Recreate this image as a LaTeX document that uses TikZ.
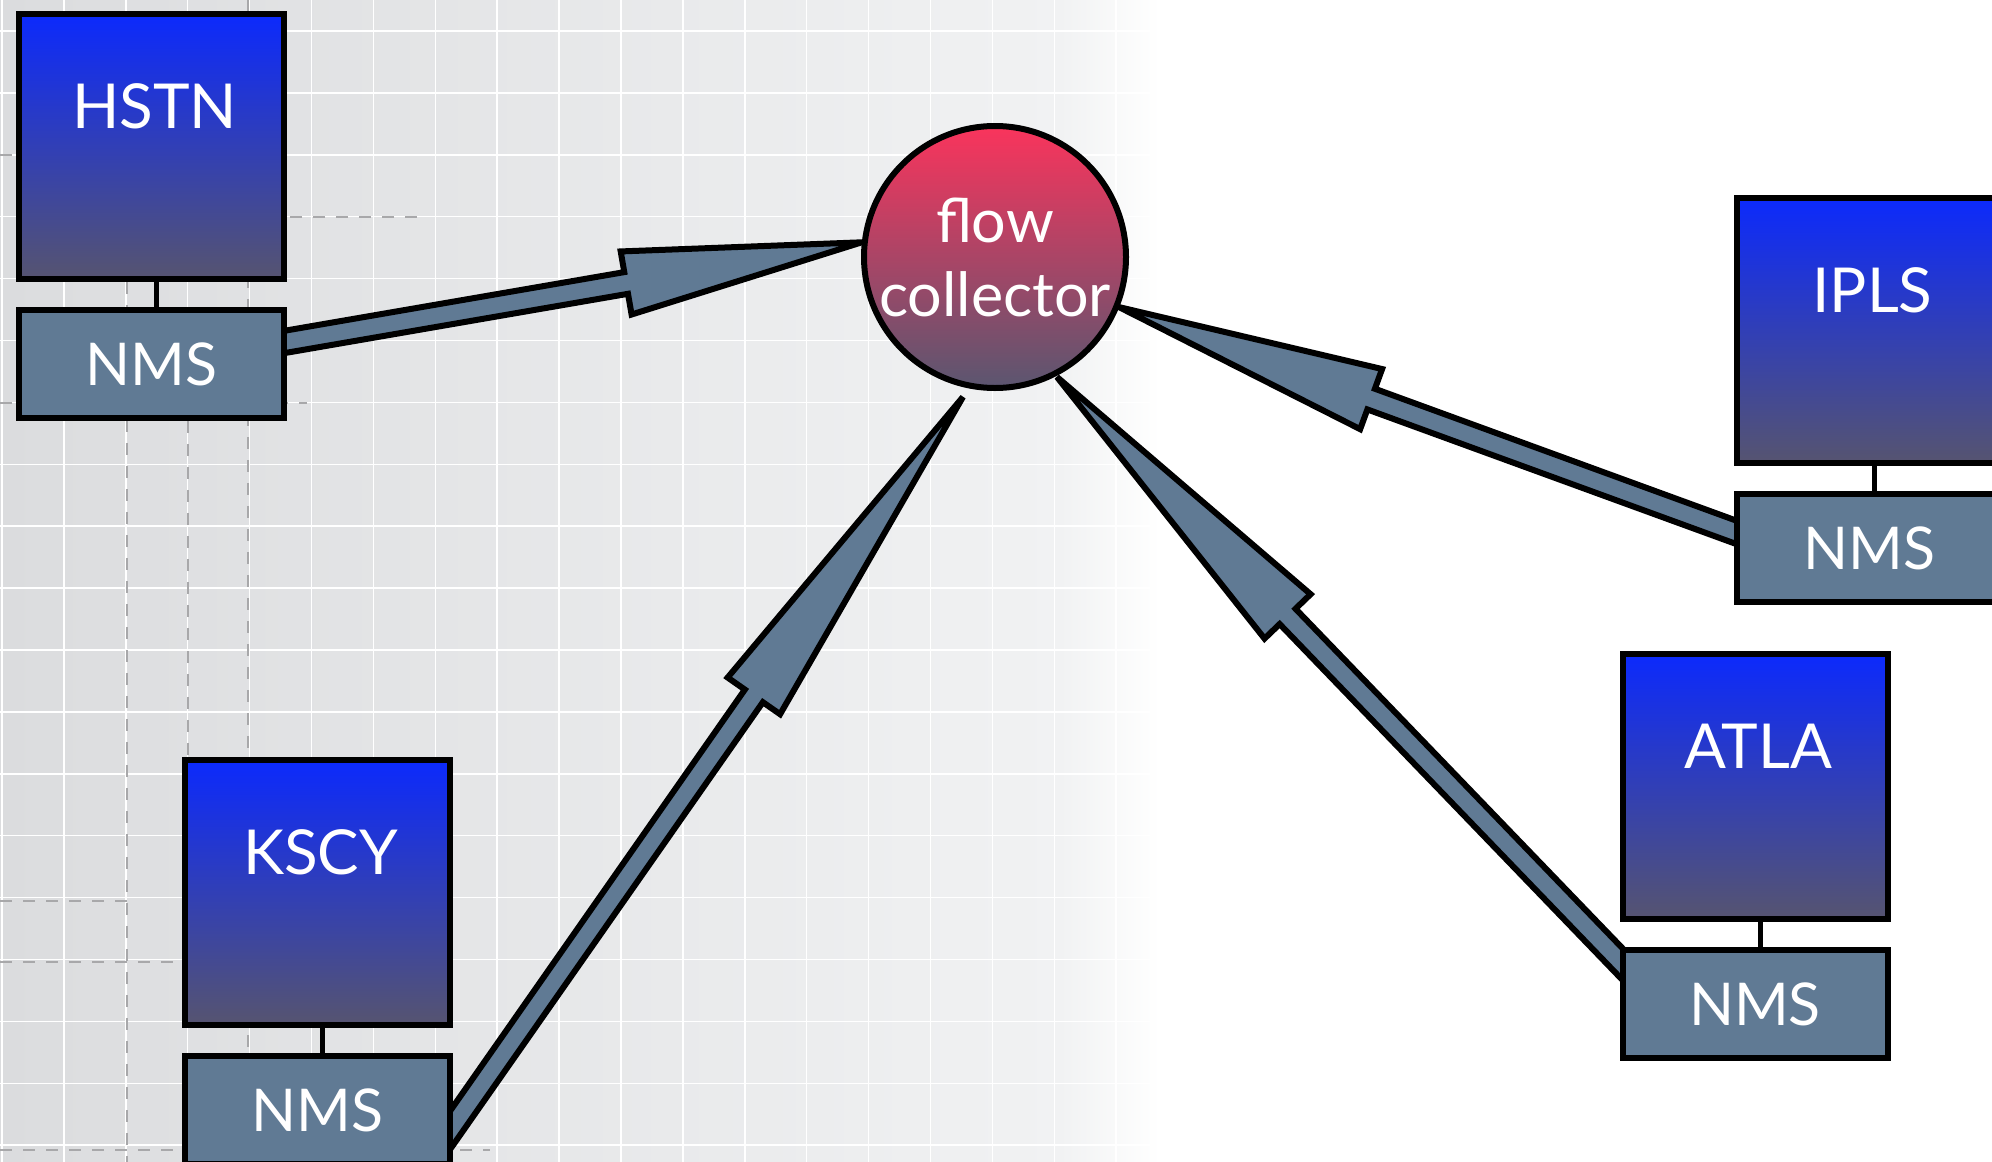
\documentclass[tikz,border=0pt]{standalone}
\usepackage{fontspec}
\setmainfont{Lato}
\usetikzlibrary{calc}
\definecolor{boxtop}{RGB}{12,42,252}
\definecolor{boxbot}{RGB}{86,84,112}
\definecolor{fctop}{RGB}{250,52,92}
\definecolor{fcbot}{RGB}{90,86,112}
\definecolor{slate}{RGB}{96,122,148}
\definecolor{bgl}{RGB}{219,220,222}
\definecolor{bgm}{RGB}{241,242,243}
\definecolor{guide}{RGB}{168,168,170}
\pgfdeclarelayer{backlayer}
\pgfdeclarelayer{arrowlayer}
\pgfsetlayers{backlayer,arrowlayer,main}
\tikzset{
 site/.style={draw=black, line width=6pt, minimum width=265pt, minimum height=265pt,
   top color=boxtop, bottom color=boxbot, inner sep=0pt},
 nms/.style={draw=black, line width=6pt, minimum width=265pt, minimum height=108pt,
   fill=slate, inner sep=0pt, text=white, font=\fontsize{59}{70}\selectfont},
 lbl/.style={text=white, font=\fontsize{62}{70}\selectfont, inner sep=0pt},
 fat/.style={fill=slate, draw=black, line width=6pt, line join=miter},
 gridline/.style={white, line width=1.5pt},
 guideline/.style={guide, line width=1.5pt, dash pattern=on 12pt off 11pt},
 tie/.style={black, line width=5pt},
}
\newcommand\fatarrow[2]{%
 \coordinate (fa-s) at ($(#2)!1.06!(#1)$);
 \coordinate (fa-h) at ($(#2)!0.41!(#1)$);
 \filldraw[fat] ($(fa-s)!11pt!90:(#2)$) -- ($(fa-h)!11pt!90:(#2)$) -- ($(fa-h)!32pt!90:(#2)$)
   -- (#2) -- ($(fa-h)!32pt!-90:(#2)$) -- ($(fa-h)!11pt!-90:(#2)$) -- ($(fa-s)!11pt!-90:(#2)$) -- cycle;
}
\begin{document}
\begin{tikzpicture}[x=1pt,y=-1pt]
\useasboundingbox (0,0) rectangle (1992,1162);
\clip (0,0) rectangle (1992,1162);
\begin{pgfonlayer}{backlayer}
\fill[white] (0,0) rectangle (1992,1162);
\fill[left color=bgl, right color=bgm] (0,0) rectangle (1060,1162);
\fill[left color=bgm, right color=white] (1060,0) rectangle (1160,1162);
\foreach \k in {0,...,18}{
  \draw[gridline] ({2+61.9*\k},0) -- ({2+61.9*\k},1162);
  \draw[gridline] (0,{31+61.9*\k}) -- (1150,{31+61.9*\k});
}
\draw[guideline] (127,282) -- (127,1162);
\draw[guideline] (188,421) -- (188,760);
\draw[guideline] (248,0) -- (248,1162);
\draw[guideline] (290,217) -- (427,217);
\draw[guideline] (0,155) -- (16,155);
\draw[guideline] (0,403) -- (307,403);
\draw[guideline] (0,901) -- (137,901);
\draw[guideline] (0,962) -- (182,962);
\draw[guideline] (0,1150) -- (490,1150);
\end{pgfonlayer}
% boxes
\node[site] (hstn) at (151.5,146.5) {};
\node[nms] (hnms) at (151.5,364) {NMS};
\node[site] (kscy) at (317.5,892.5) {};
\node[nms] (knms) at (317.5,1110) {NMS};
\node[site] (atla) at (1755,786.5) {};
\node[nms] (anms) at (1755,1004) {NMS};
\node[site] (ipls) at (1869.5,330.5) {};
\node[nms] (inms) at (1869.5,548) {NMS};
% circle
\node[circle, draw=black, line width=6pt, minimum size=262pt, top color=fctop,
  bottom color=fcbot, text=white, align=center, inner sep=0pt,
  font=\fontsize{61}{74}\selectfont] (fc) at (995,257) {flow\\collector};
% ties
\draw[tie] ($(hstn.south)+(5,0)$) -- ($(hnms.north)+(5,0)$);
\draw[tie] ($(kscy.south)+(5,0)$) -- ($(knms.north)+(5,0)$);
\draw[tie] ($(atla.south)+(5,0)$) -- ($(anms.north)+(5,0)$);
\draw[tie] ($(ipls.south)+(5,0)$) -- ($(inms.north)+(5,0)$);
% labels
\node[lbl] (hstnl) at ($(hstn.north)+(3,95)$) {HSTN};
\node[lbl] (kscyl) at ($(kscy.north)+(3,95)$) {KSCY};
\node[lbl] (atlal) at ($(atla.north)+(3,95)$) {ATLA};
\node[lbl] (iplsl) at ($(ipls.north)+(3,95)$) {IPLS};
% arrows
\coordinate (a1s) at ($(hnms.east)+(0,-22.5)$);
\coordinate (a1t) at ($(fc.center)+(173.7:134pt)$);
\coordinate (a2s) at ($(knms.east)+(0,16)$);
\coordinate (a2t) at ($(fc.center)+(-102.9:143.6pt)$);
\coordinate (a3s) at ($(anms.west)+(0,-43)$);
\coordinate (a3t) at ($(fc.center)+(-62.7:135pt)$);
\coordinate (a4s) at ($(inms.west)+(0,-16.5)$);
\coordinate (a4t) at ($(fc.center)+(-22:133.7pt)$);
\begin{pgfonlayer}{arrowlayer}
\fatarrow{a1s}{a1t}
\fatarrow{a2s}{a2t}
\fatarrow{a3s}{a3t}
\fatarrow{a4s}{a4t}
\end{pgfonlayer}
\end{tikzpicture}
\end{document}
